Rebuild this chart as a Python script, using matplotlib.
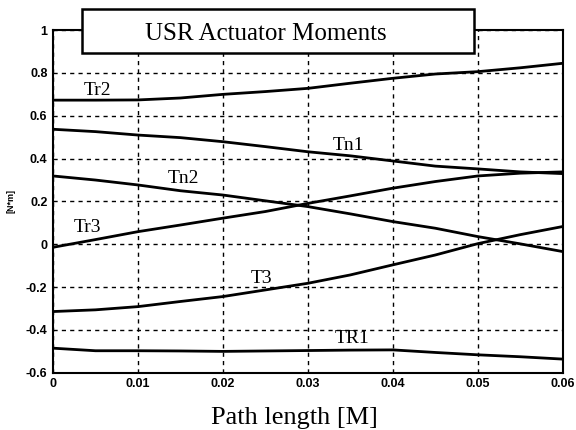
import matplotlib
matplotlib.use("Agg")
import matplotlib.pyplot as plt
from matplotlib.patches import Rectangle

# Path length samples [m]
path_length = [0.0, 0.005, 0.01, 0.015, 0.02, 0.025, 0.03,
               0.035, 0.04, 0.045, 0.05, 0.055, 0.06]

# Actuator moments [N*m]
tr2 = [0.673, 0.673, 0.674, 0.683, 0.700, 0.713, 0.728,
       0.752, 0.775, 0.795, 0.806, 0.824, 0.845]
tn1 = [0.537, 0.526, 0.510, 0.498, 0.479, 0.456, 0.432,
       0.413, 0.389, 0.365, 0.352, 0.338, 0.330]
tn2 = [0.319, 0.300, 0.277, 0.250, 0.230, 0.203, 0.176,
       0.142, 0.106, 0.075, 0.036, 0.002, -0.034]
tr3 = [-0.014, 0.022, 0.059, 0.090, 0.122, 0.153, 0.191,
       0.226, 0.262, 0.293, 0.319, 0.332, 0.338]
t3 = [-0.314, -0.306, -0.291, -0.267, -0.244, -0.213, -0.182,
      -0.143, -0.096, -0.050, 0.003, 0.045, 0.083]
tr1 = [-0.485, -0.497, -0.497, -0.498, -0.500, -0.498, -0.496,
       -0.494, -0.493, -0.505, -0.516, -0.525, -0.536]

series = [tr2, tn1, tn2, tr3, t3, tr1]

# Curve labels and their anchor points (x, y)
label_names = ["Tr2", "Tn1", "Tn2", "Tr3", "T3", "TR1"]
label_x = [0.0052, 0.0348, 0.0154, 0.0041, 0.0245, 0.0352]
label_y = [0.720, 0.461, 0.307, 0.079, -0.162, -0.439]

x_ticks = [0, 0.01, 0.02, 0.03, 0.04, 0.05, 0.06]
x_tick_labels = ["0", "0.01", "0.02", "0.03", "0.04", "0.05", "0.06"]
y_ticks = [-0.6, -0.4, -0.2, 0, 0.2, 0.4, 0.6, 0.8, 1]
y_tick_labels = ["-0.6", "-0.4", "-0.2", "0", "0.2", "0.4", "0.6", "0.8", "1"]

serif = ["Liberation Serif", "DejaVu Serif"]
sans = ["Liberation Sans", "DejaVu Sans"]

fig = plt.figure(figsize=(5.76, 4.30), dpi=100)
ax = fig.add_axes([0.092, 0.133, 0.885, 0.797])

for ys in series:
    ax.plot(path_length, ys, color="black", lw=2.0, solid_capstyle="butt")

for name, lx, ly in zip(label_names, label_x, label_y):
    ax.text(lx, ly, name, ha="center", va="center", fontsize=14,
            family=serif, color="black")

ax.set_xlim(0, 0.06)
ax.set_ylim(-0.6, 1)
ax.set_xticks(x_ticks)
ax.set_xticklabels(x_tick_labels, fontsize=9, family=sans, fontweight="bold")
ax.set_yticks(y_ticks)
ax.set_yticklabels(y_tick_labels, fontsize=9, family=sans, fontweight="bold")
ax.tick_params(length=0, pad=4)
ax.grid(True, color="black", linestyle=(0, (3, 3)), lw=1.0)
for sp in ax.spines.values():
    sp.set_linewidth(1.5)
    sp.set_color("black")

ax.set_ylabel("[N*m]", fontsize=6.5, family=sans, fontweight="bold", labelpad=7)
fig.text(0.511, 0.013, "Path length [M]", ha="center", va="baseline",
         fontsize=19, family=serif)

# Title box sitting over the top edge of the axes
box = Rectangle((0.1424, 0.8767), 0.6805, 0.1023, transform=fig.transFigure,
                facecolor="white", edgecolor="black", lw=1.8, zorder=5)
fig.add_artist(box)
fig.text(0.462, 0.921, "USR Actuator Moments", ha="center", va="center",
         fontsize=18, family=serif, zorder=6)

fig.savefig("out.png", dpi=100)
